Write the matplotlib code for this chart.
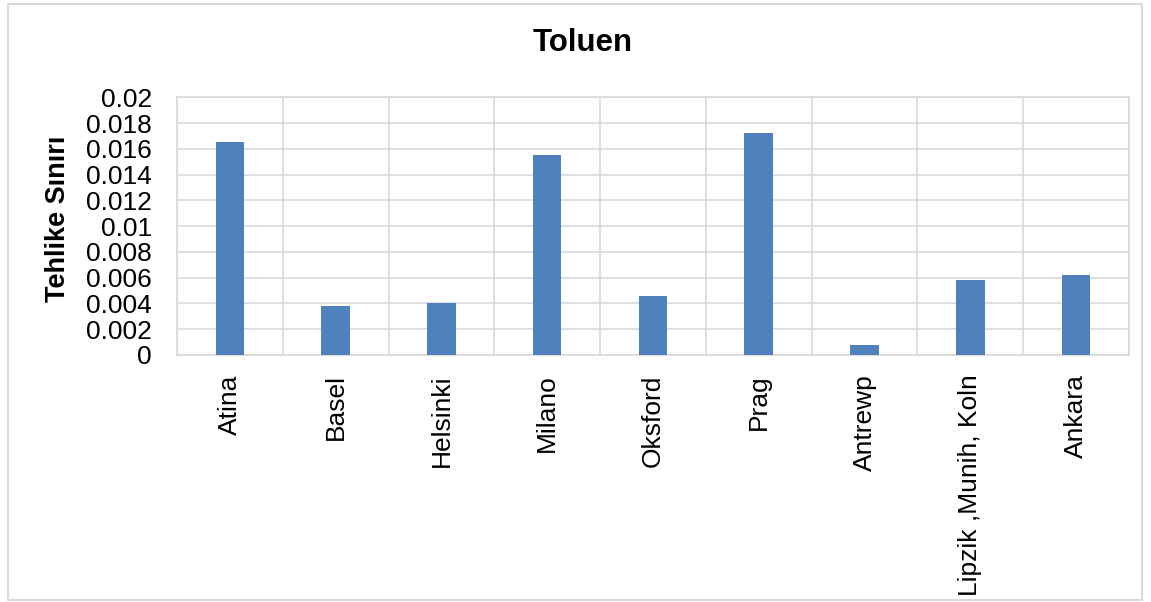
import matplotlib.pyplot as plt
from matplotlib.patches import Rectangle
import numpy as np

plt.rcParams['font.family'] = ['Liberation Sans', 'DejaVu Sans']

# toluen hazard limits per city
sehirler = ['Atina', 'Basel', 'Helsinki', 'Milano', 'Oksford', 'Prag',
            'Antrewp', 'Lipzik ,Munih, Koln', 'Ankara']
degerler = [0.0165, 0.0038, 0.0040, 0.0155, 0.0046, 0.0172,
            0.0008, 0.0058, 0.0062]
yticks = [0, 0.002, 0.004, 0.006, 0.008, 0.01, 0.012, 0.014, 0.016, 0.018, 0.02]
ytick_labels = ['0', '0.002', '0.004', '0.006', '0.008', '0.01', '0.012',
                '0.014', '0.016', '0.018', '0.02']

fig = plt.figure(figsize=(11.51, 6.02), dpi=100)
ax = fig.add_axes([0.1538, 0.4103, 0.827, 0.428])

x = np.arange(len(sehirler))
ax.bar(x, degerler, width=0.27, color='#4F81BD', zorder=3)

ax.set_xlim(-0.5, len(sehirler) - 0.5)
ax.set_ylim(0, 0.02)
ax.set_yticks(yticks)
ax.set_yticklabels(ytick_labels, fontsize=19)
ax.set_xticks(x)
ax.set_xticklabels(sehirler, rotation=90, fontsize=19)

# vertical grid between categories
ax.set_xticks(np.arange(len(sehirler) + 1) - 0.5, minor=True)
ax.grid(axis='x', which='minor', color='#d9d9d9', linewidth=1.2, zorder=0)
ax.grid(axis='y', which='major', color='#d9d9d9', linewidth=1.2, zorder=0)
ax.tick_params(axis='both', which='both', length=0)
ax.tick_params(axis='x', pad=14)
ax.tick_params(axis='y', pad=18)
for s in ax.spines.values():
    s.set_color('#d9d9d9')
    s.set_linewidth(1.2)

ax.set_ylabel('Tehlike Sınırı', fontsize=19.5, fontweight='bold')
ax.yaxis.set_label_coords(-0.111, 0.53)
fig.text(0.506, 0.929, 'Toluen', ha='center', va='center',
         fontsize=22.5, fontweight='bold')

# outer chart frame
fig.patches.append(Rectangle((0.007, 0.004), 0.985, 0.99, transform=fig.transFigure,
                             fill=False, edgecolor='#d9d9d9', linewidth=1.5))

fig.savefig('out.png', dpi=100)
